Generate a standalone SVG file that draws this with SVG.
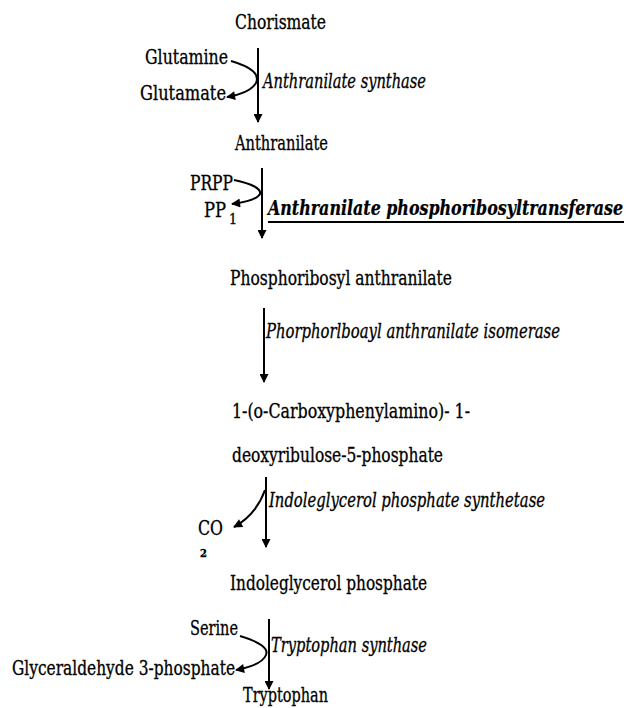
<svg xmlns="http://www.w3.org/2000/svg" width="627" height="708" viewBox="0 0 627 708">
<style>
text{font-family:'DejaVu Serif Condensed','DejaVu Serif',serif;font-stretch:condensed;font-size:20px;fill:#000;stroke:#000;stroke-width:0.3px}
.it{font-style:italic}
.bi{font-style:italic;font-weight:bold;font-size:17px;stroke-width:0.2px}
.conn line,.conn path{stroke:#000;stroke-width:2;fill:none}
</style>
<defs>
<marker id="ah" viewBox="0 0 10 10" refX="9" refY="5" markerUnits="userSpaceOnUse" markerWidth="11" markerHeight="9" orient="auto">
<path d="M0,0 L10,5 L0,10 Z" fill="#000"/>
</marker>
</defs>
<g class="conn" id="connectors">
<line x1="258" y1="48" x2="258" y2="122" marker-end="url(#ah)"/>
<line x1="262" y1="168" x2="262" y2="238" marker-end="url(#ah)"/>
<line x1="264" y1="308" x2="264" y2="382" marker-end="url(#ah)"/>
<line x1="266" y1="477" x2="266" y2="547" marker-end="url(#ah)"/>
<line x1="269" y1="619" x2="269" y2="689" marker-end="url(#ah)"/>
<path d="M231,61 Q262,70 256,83 Q250,93 227,97" marker-end="url(#ah)"/>
<path d="M234,180 Q262,186 260,194 Q256,201 232,204" marker-end="url(#ah)"/>
<path d="M265,490 Q256,515 234,527" marker-end="url(#ah)"/>
<path d="M240,636 Q270,645 266,655 Q262,665 236,670" marker-end="url(#ah)"/>
</g>
<g id="chorismate"><text x="235" y="29" textLength="91" lengthAdjust="spacingAndGlyphs">Chorismate</text></g>
<g id="glutamine"><text x="145" y="64" textLength="83" lengthAdjust="spacingAndGlyphs">Glutamine</text></g>
<g id="glutamate"><text x="140" y="100" textLength="86" lengthAdjust="spacingAndGlyphs">Glutamate</text></g>
<g id="enz1"><text class="it" x="263" y="88" textLength="163" lengthAdjust="spacingAndGlyphs">Anthranilate synthase</text></g>
<g id="anthranilate"><text x="235" y="150" textLength="93" lengthAdjust="spacingAndGlyphs">Anthranilate</text></g>
<g id="prpp"><text x="190" y="190" textLength="43" lengthAdjust="spacingAndGlyphs">PRPP</text></g>
<g id="ppi"><text x="204" y="217" textLength="22" lengthAdjust="spacingAndGlyphs">PP</text><text x="229" y="224" style="font-size:14px">1</text></g>
<g id="enz2"><text class="bi" x="268" y="179.2" transform="scale(1,1.2)" textLength="355" lengthAdjust="spacingAndGlyphs">Anthranilate phosphoribosyltransferase</text><line x1="268" y1="222" x2="624" y2="222" stroke="#000" stroke-width="2"/></g>
<g id="pra"><text x="230" y="285" textLength="222" lengthAdjust="spacingAndGlyphs">Phosphoribosyl anthranilate</text></g>
<g id="enz3"><text class="it" x="266" y="338" textLength="294" lengthAdjust="spacingAndGlyphs">Phorphorlboayl anthranilate isomerase</text></g>
<g id="cdrp"><text x="232" y="418" textLength="238" lengthAdjust="spacingAndGlyphs">1-(o-Carboxyphenylamino)- 1-</text><text x="232" y="462" textLength="211" lengthAdjust="spacingAndGlyphs">deoxyribulose-5-phosphate</text></g>
<g id="enz4"><text class="it" x="269" y="507" textLength="276" lengthAdjust="spacingAndGlyphs">Indoleglycerol phosphate synthetase</text></g>
<g id="co2"><text x="198" y="535" textLength="25" lengthAdjust="spacingAndGlyphs">CO</text><text x="200" y="557" style="font-size:11px;font-weight:bold">2</text></g>
<g id="igp"><text x="230" y="590" textLength="197" lengthAdjust="spacingAndGlyphs">Indoleglycerol phosphate</text></g>
<g id="serine"><text x="190" y="635" textLength="48" lengthAdjust="spacingAndGlyphs">Serine</text></g>
<g id="enz5"><text class="it" x="271" y="652" textLength="156" lengthAdjust="spacingAndGlyphs">Tryptophan synthase</text></g>
<g id="g3p"><text x="12" y="675" textLength="223" lengthAdjust="spacingAndGlyphs">Glyceraldehyde 3-phosphate</text></g>
<g id="tryptophan"><text x="243" y="702" textLength="85" lengthAdjust="spacingAndGlyphs">Tryptophan</text></g>
</svg>
